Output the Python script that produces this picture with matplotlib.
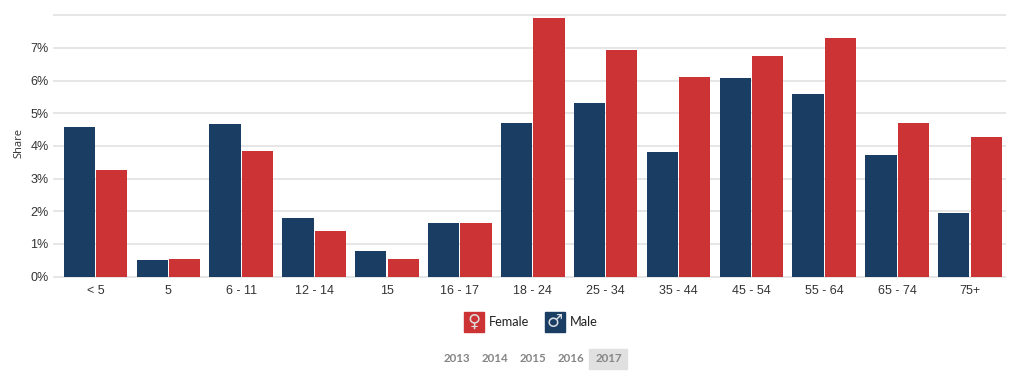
import matplotlib
matplotlib.use("Agg")
import matplotlib.pyplot as plt
from matplotlib.patches import Rectangle
import numpy as np

W, H = 1011, 377

ages = ["< 5", "5", "6 - 11", "12 - 14", "15", "16 - 17", "18 - 24", "25 - 34",
        "35 - 44", "45 - 54", "55 - 64", "65 - 74", "75+"]
male = [4.57, 0.50, 4.66, 1.80, 0.78, 1.63, 4.70, 5.30, 3.82, 6.07, 5.58, 3.72, 1.95]
female = [3.25, 0.53, 3.84, 1.38, 0.55, 1.63, 7.93, 6.95, 6.10, 6.75, 7.30, 4.70, 4.27]
yticks = [0, 1, 2, 3, 4, 5, 6, 7, 8]
ytick_labels = ["0%", "1%", "2%", "3%", "4%", "5%", "6%", "7%", ""]
years = ["2013", "2014", "2015", "2016", "2017"]

blue = "#1a3d63"
red = "#cb3335"
grid = "#e6e6e6"

fig = plt.figure(figsize=(W / 100, H / 100), dpi=100)
ax = fig.add_axes([54 / W, 1 - 276.5 / H, 951 / W, 261.2 / H])

x = np.arange(len(ages))
bw = 0.428
ax.bar(x - 0.222, male, bw, color=blue, zorder=3)
ax.bar(x + 0.222, female, bw, color=red, zorder=3)

ax.set_xlim(-0.569, 12.48)
ax.set_ylim(0, 8)
ax.set_xticks(x)
ax.set_xticklabels(ages)
ax.set_yticks(yticks)
ax.set_yticklabels(ytick_labels)
ax.tick_params(axis="both", length=0, labelsize=9, labelcolor="#333333")
ax.tick_params(axis="x", pad=6)
ax.tick_params(axis="y", pad=4)
for lab in ax.get_xticklabels() + ax.get_yticklabels():
    lab.set_fontfamily("Liberation Sans")
ax.grid(axis="y", color=grid, linewidth=1.4, zorder=0)
ax.set_axisbelow(True)
for s in ax.spines.values():
    s.set_visible(False)
for gl in ax.get_ygridlines():
    gl.set_clip_on(False)

def fx(px):
    return px / W

def fy(py):
    return 1 - py / H

fig.text(fx(18.5), fy(143), "Share", rotation=90, ha="center", va="center",
         fontsize=8, color="#333333", family="Open Sans")

# legend
fig.add_artist(Rectangle((fx(464), fy(332)), 20 / W, 20 / H, color=red, transform=fig.transFigure))
fig.text(fx(474), fy(322), "\u2640", ha="center", va="center", fontsize=13, color="#e0dcdc",
         family="DejaVu Sans")
fig.text(fx(489), fy(322.5), "Female", ha="left", va="center", fontsize=9.2, color="#222222",
         family="Lato")
fig.add_artist(Rectangle((fx(545), fy(332)), 20 / W, 20 / H, color=blue, transform=fig.transFigure))
fig.text(fx(555), fy(322), "\u2642", ha="center", va="center", fontsize=13, color="#d8dde2",
         family="DejaVu Sans")
fig.text(fx(570), fy(322.5), "Male", ha="left", va="center", fontsize=9.2, color="#222222",
         family="Lato")

# year selector
fig.add_artist(Rectangle((fx(589), fy(369)), 38 / W, 20 / H, color="#e0e0e0", transform=fig.transFigure))
for i, yr in enumerate(years):
    fig.text(fx(456.5 + i * 38), fy(358.5), yr, ha="center", va="center", fontsize=8.3,
             fontweight="bold", color="#858585", family="Lato")

fig.savefig("out.png", dpi=100)
